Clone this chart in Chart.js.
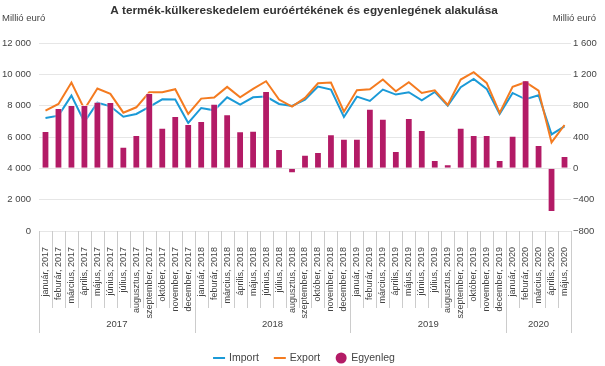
<!DOCTYPE html>
<html lang="hu">
<head>
<meta charset="utf-8">
<title>A termék-külkereskedelem euróértékének és egyenlegének alakulása</title>
<script src="https://cdn.jsdelivr.net/npm/chart.js@4.4.1/dist/chart.umd.min.js"></script>
<style>
  html, body { margin: 0; padding: 0; background: #fff; }
  #wrap { width: 605px; height: 366px; }
</style>
</head>
<body>
<div id="wrap"><canvas id="tradeChart" width="605" height="366"></canvas></div>
<script>
// Chart data (millió euró)
const monthNames = ["január", "feburár", "március", "április", "május", "június",
  "július", "augusztus", "szeptember", "október", "november", "december"];
const years = [2017, 2018, 2019, 2020];
const monthsPerYear = [12, 12, 12, 5];

const importValues = [
  7213, 7362, 8643, 6957, 8195, 7960, 7298, 7469, 7917, 8408, 8387, 6893,
  7853, 7704, 8536, 8067, 8536, 8579, 8109, 7981, 8387, 9219, 9027, 7277,
  8579, 8301, 9027, 8707, 8856, 8344, 8877, 8003, 9176, 9710, 9070, 7469,
  8813, 8408, 8664, 6167, 6679
];
const exportValues = [
  7682, 8109, 9475, 7768, 9091, 8749, 7554, 7896, 8856, 8856, 9048, 7469,
  8451, 8515, 9198, 8536, 9070, 9560, 8387, 7938, 8493, 9432, 9475, 7618,
  8984, 9048, 9667, 8920, 9496, 8813, 8984, 8045, 9667, 10136, 9454, 7533,
  9198, 9496, 8963, 5655, 6765
];
const balanceValues = [
  477, 770, 808, 808, 851, 847, 277, 425, 962, 519, 668, 566,
  604, 826, 689, 472, 481, 987, 247, -64, 174, 208, 434, 379,
  379, 762, 634, 221, 643, 489, 106, 51, 519, 426, 426, 106,
  417, 1123, 298, -557, 157
];

const colors = {
  import: "#1b9ad7",
  export: "#f47b20",
  balance: "#b31b66",
  grid: "#e6e6e6",
  sep: "#cccccc",
  text: "#444444",
  title: "#333333"
};
const fontFamily = "'Liberation Sans', Arial, sans-serif";

// category labels: "január, 2017" ...
const labels = [];
years.forEach((year, i) => {
  for (let m = 0; m < monthsPerYear[i]; m++) {
    labels.push(monthNames[m] + ", " + year);
  }
});

// 12 000 / −400 style numbers
function formatNumber(value) {
  const abs = Math.abs(value).toString().replace(/\B(?=(\d{3})+(?!\d))/g, " ");
  return value < 0 ? "\u2212" + abs : abs;
}

// Title and unit labels
const headerPlugin = {
  id: "header",
  afterDraw(chart) {
    const ctx = chart.ctx;
    ctx.save();
    ctx.fillStyle = colors.title;
    ctx.font = "bold 11.8px " + fontFamily;
    ctx.textAlign = "center";
    ctx.textBaseline = "middle";
    ctx.fillText("A termék-külkereskedelem euróértékének és egyenlegének alakulása", 304, 11);

    ctx.fillStyle = colors.text;
    ctx.font = "9.5px " + fontFamily;
    ctx.textAlign = "left";
    ctx.fillText("Millió euró", 2, 18);
    ctx.textAlign = "right";
    ctx.fillText("Millió euró", 596, 18);
    ctx.restore();
  }
};

// Two level category axis: month separators, year separators and year labels
const groupAxisPlugin = {
  id: "groupAxis",
  afterDraw(chart) {
    const ctx = chart.ctx;
    const xScale = chart.scales.x;
    const top = chart.chartArea.bottom;
    const half = (xScale.getPixelForValue(1) - xScale.getPixelForValue(0)) / 2;
    const yearEnds = [0];
    monthsPerYear.forEach((n, i) => yearEnds.push(yearEnds[i] + n));

    ctx.save();
    ctx.strokeStyle = colors.sep;
    ctx.lineWidth = 1;
    for (let i = 0; i <= labels.length; i++) {
      const x = Math.round(i < labels.length
        ? xScale.getPixelForValue(i) - half
        : xScale.getPixelForValue(labels.length - 1) + half) + 0.5;
      const bottom = yearEnds.includes(i) ? top + 102 : top + 77;
      ctx.beginPath();
      ctx.moveTo(x, top);
      ctx.lineTo(x, bottom);
      ctx.stroke();
    }

    ctx.fillStyle = colors.text;
    ctx.font = "9.5px " + fontFamily;
    ctx.textAlign = "center";
    ctx.textBaseline = "middle";
    years.forEach((year, i) => {
      const left = xScale.getPixelForValue(yearEnds[i]) - half;
      const right = xScale.getPixelForValue(yearEnds[i + 1] - 1) + half;
      ctx.fillText(String(year), (left + right) / 2, top + 93);
    });
    ctx.restore();
  }
};

// Legend drawn under the axis
const legendPlugin = {
  id: "bottomLegend",
  afterDraw(chart) {
    const ctx = chart.ctx;
    const items = [
      { label: "Import", color: colors.import, type: "line" },
      { label: "Export", color: colors.export, type: "line" },
      { label: "Egyenleg", color: colors.balance, type: "circle" }
    ];
    const y = 358;
    ctx.save();
    ctx.font = "10.5px " + fontFamily;
    ctx.textBaseline = "middle";
    ctx.textAlign = "left";
    const symbolW = 12;
    const gap = 4;
    const itemGap = 15;
    let total = 0;
    items.forEach((item, i) => {
      item.w = symbolW + gap + ctx.measureText(item.label).width;
      total += item.w + (i > 0 ? itemGap : 0);
    });
    let x = 304 - total / 2;
    items.forEach((item) => {
      if (item.type === "line") {
        ctx.strokeStyle = item.color;
        ctx.lineWidth = 2;
        ctx.beginPath();
        ctx.moveTo(x, y);
        ctx.lineTo(x + symbolW, y);
        ctx.stroke();
      } else {
        ctx.fillStyle = item.color;
        ctx.beginPath();
        ctx.arc(x + symbolW / 2, y, 5.5, 0, Math.PI * 2);
        ctx.fill();
      }
      ctx.fillStyle = colors.text;
      ctx.fillText(item.label, x + symbolW + gap, y + 0.5);
      x += item.w + itemGap;
    });
    ctx.restore();
  }
};

const ctx = document.getElementById("tradeChart").getContext("2d");
new Chart(ctx, {
  type: "bar",
  data: {
    labels: labels,
    datasets: [
      {
        type: "bar",
        label: "Egyenleg",
        data: balanceValues,
        yAxisID: "y1",
        backgroundColor: colors.balance,
        borderColor: "rgba(255, 255, 255, 0.6)",
        borderWidth: 1,
        barPercentage: 0.6,
        categoryPercentage: 1,
        order: 0
      },
      {
        type: "line",
        label: "Export",
        data: exportValues,
        yAxisID: "y",
        borderColor: colors.export,
        backgroundColor: colors.export,
        borderWidth: 2,
        pointRadius: 0,
        tension: 0,
        order: 1
      },
      {
        type: "line",
        label: "Import",
        data: importValues,
        yAxisID: "y",
        borderColor: colors.import,
        backgroundColor: colors.import,
        borderWidth: 2,
        pointRadius: 0,
        tension: 0,
        order: 2
      }
    ]
  },
  options: {
    responsive: false,
    animation: false,
    layout: {
      padding: { top: 43, bottom: 33, left: 0, right: 0 }
    },
    plugins: {
      legend: { display: false },
      title: { display: false },
      tooltip: { enabled: false }
    },
    scales: {
      x: {
        grid: { display: false },
        border: { display: false },
        ticks: {
          autoSkip: false,
          minRotation: 90,
          maxRotation: 90,
          padding: 8,
          color: colors.text,
          font: { family: fontFamily, size: 9 }
        },
        afterFit: function (scale) {
          scale.height = 102;
        }
      },
      y: {
        position: "left",
        min: 0,
        max: 12000,
        ticks: {
          stepSize: 2000,
          padding: 8,
          color: colors.text,
          font: { family: fontFamily, size: 9.5 },
          callback: function (value) {
            return formatNumber(value);
          }
        },
        grid: { color: colors.grid, drawTicks: false },
        border: { display: false },
        afterFit: function (scale) {
          scale.width = 39;
        }
      },
      y1: {
        position: "right",
        min: -800,
        max: 1600,
        ticks: {
          stepSize: 400,
          padding: 2,
          color: colors.text,
          font: { family: fontFamily, size: 9.5 },
          callback: function (value) {
            return formatNumber(value);
          }
        },
        grid: { drawOnChartArea: false, drawTicks: false },
        border: { display: false },
        afterFit: function (scale) {
          scale.width = 34;
        }
      }
    }
  },
  plugins: [headerPlugin, groupAxisPlugin, legendPlugin]
});
</script>
</body>
</html>
